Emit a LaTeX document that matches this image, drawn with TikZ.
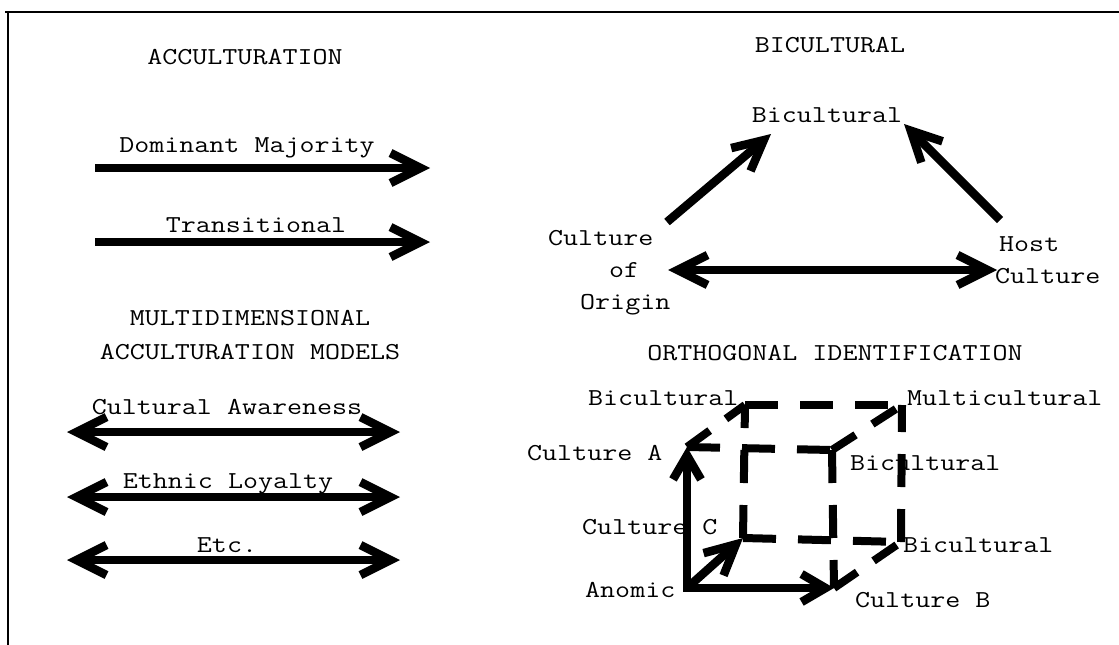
\documentclass[tikz,border=0pt]{standalone}
\usepackage{fontspec}
\newfontfamily\typew{Latin Modern Mono}[FakeStretch=1.2]
\usetikzlibrary{arrows.meta}
\begin{document}
\begin{tikzpicture}[x=1pt,y=-1pt,
  lbl/.style={font=\typew\fontsize{24.3}{30}\selectfont, inner sep=0pt, anchor=base},
  lblw/.style={lbl, anchor=base west},
  barb/.tip={Straight Barb[length=30pt,width=30pt,line width=8.5pt]},
  sbarb/.tip={Straight Barb[length=24pt,width=28pt,line width=8.5pt]},
  bigarrow/.style={line width=8.5pt, -barb},
  dblarrow/.style={line width=8.5pt, barb-barb},
  axis/.style={line width=8.5pt, line join=miter},
  cubedash/.style={line width=8pt, dash pattern=on 33pt off 22pt}]
\useasboundingbox (0,0) rectangle (1119,645);
% frame
\draw[line width=2.5pt] (5,12) -- (1119,12);
\draw[line width=2pt] (8,12) -- (8,645);

% ---------- Acculturation ----------
\node[lbl] (hAcc) at (245,64) {ACCULTURATION};
\node[lbl] (tDom) at (247,152) {Dominant Majority};
\coordinate (d1) at (95,168); \coordinate (d2) at (430,168);
\draw[bigarrow] (d1) -- (d2);
\node[lbl] (tTra) at (256,232) {Transitional};
\coordinate (t1) at (95,242); \coordinate (t2) at (430,242);
\draw[bigarrow] (t1) -- (t2);

% ---------- Multidimensional ----------
\node[lbl] (hMul1) at (250,325) {MULTIDIMENSIONAL};
\node[lbl] (hMul2) at (250,359) {ACCULTURATION MODELS};
\node[lbl] (tCA) at (227,414) {Cultural Awareness};
\coordinate (c1) at (67,432); \coordinate (c2) at (400,432);
\draw[dblarrow] (c1) -- (c2);
\node[lbl] (tEL) at (228,488) {Ethnic Loyalty};
\coordinate (e1) at (67,497); \coordinate (e2) at (400,497);
\draw[dblarrow] (e1) -- (e2);
\node[lbl] (tEtc) at (227,552) {Etc.};
\coordinate (x1) at (67,560); \coordinate (x2) at (400,560);
\draw[dblarrow] (x1) -- (x2);

% ---------- Bicultural ----------
\node[lbl] (hBic) at (830,52) {BICULTURAL};
\node[lbl] (bTop) at (827,122) {Bicultural};
\node[lblw] (bCul) at (548,245) {Culture};
\node[lblw] (bOf) at (609,277) {of};
\node[lblw] (bOri) at (580,309) {Origin};
\node[lblw] (bHost) at (999,251) {Host};
\node[lblw] (bHCul) at (995,283) {Culture};
\coordinate (l1) at (667,222); \coordinate (l2) at (771,134);
\coordinate (r1) at (1000,220); \coordinate (r2) at (904,124);
\coordinate (h1) at (668,270); \coordinate (h2) at (997,270);
\draw[bigarrow] (l1) -- (l2);
\draw[bigarrow] (r1) -- (r2);
\draw[dblarrow] (h1) -- (h2);

% ---------- Orthogonal identification ----------
\node[lbl] (hOrt) at (835,360) {ORTHOGONAL IDENTIFICATION};
\coordinate (O) at (687,588);
\coordinate (A) at (687,447);
\coordinate (B) at (834,588);
\coordinate (C) at (743,538);
\coordinate (AB) at (832,450);
\coordinate (AC) at (745,405);
\coordinate (BC) at (901,542);
\coordinate (ABC) at (902,405);
% dashed cube edges
\draw[cubedash] (A) -- (AB);
\draw[cubedash] (AB) -- (B);
\draw[cubedash] (C) -- (AC);
\draw[cubedash] (AC) -- (ABC);
\draw[cubedash] (C) -- (BC);
\draw[cubedash] (BC) -- (ABC);
\draw[cubedash, dash pattern=on 28pt off 20pt] (A) -- (AC);
\draw[cubedash, dash pattern=on 28pt off 20pt] (AB) -- (ABC);
\draw[cubedash, dash pattern=on 28pt off 20pt] (B) -- (BC);
% solid axes
\draw[axis, sbarb-sbarb] (A) -- (O) -- (B);
\draw[axis, -barb] (O) -- (C);
% labels
\node[lblw] (lBicTL) at (588,405) {Bicultural};
\node[lblw] (lMulti) at (907,405) {Multicultural};
\node[lblw] (lCA) at (527,460) {Culture A};
\node[lblw] (lBicF) at (850,470) {Bicultural};
\node[lblw] (lCC) at (582,534) {Culture C};
\node[lblw] (lBicBR) at (903,552) {Bicultural};
\node[lblw] (lAno) at (585,597) {Anomic};
\node[lblw] (lCB) at (855,607) {Culture B};
\end{tikzpicture}
\end{document}
